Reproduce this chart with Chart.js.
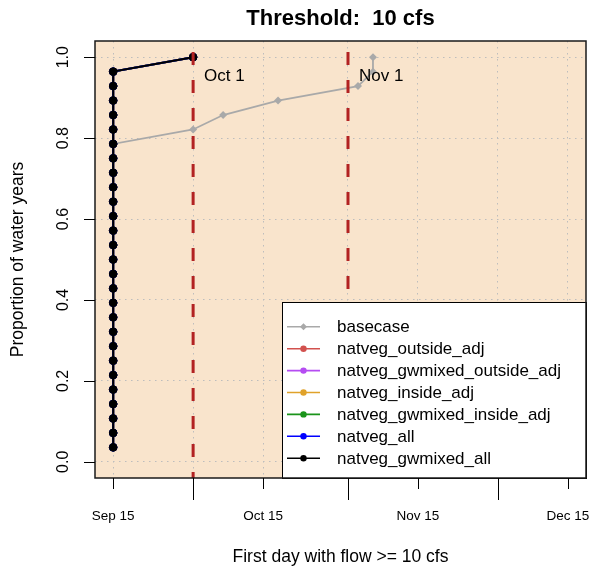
<!DOCTYPE html>
<html>
<head>
<meta charset="utf-8">
<script src="https://cdn.jsdelivr.net/npm/chart.js@4/dist/chart.umd.min.js"></script>
<style>
  body { margin: 0; background: #fff; }
  canvas { display: block; }
</style>
</head>
<body>
<canvas id="chart" width="593" height="569"></canvas>
<script>
// x values are days counted from Sep 1 (Sep 15 = 14, Oct 1 = 30, ...)
var seriesNames = ['basecase', 'natveg_outside_adj', 'natveg_gwmixed_outside_adj', 'natveg_inside_adj',
    'natveg_gwmixed_inside_adj', 'natveg_all', 'natveg_gwmixed_all'];
var seriesColors = ['#A9A9A9', '#D2514E', '#B54CF2', '#E0A22A', '#1A941A', '#0000FF', '#000000'];

// proportion of water years (28 years)
var proportions = [0.0357, 0.0714, 0.1071, 0.1429, 0.1786, 0.2143, 0.25, 0.2857, 0.3214, 0.3571,
    0.3929, 0.4286, 0.4643, 0.5, 0.5357, 0.5714, 0.6071, 0.6429, 0.6786, 0.7143,
    0.75, 0.7857, 0.8214, 0.8571, 0.8929, 0.9286, 0.9643, 1.0];

var basecaseDays = [14, 14, 14, 14, 14, 14, 14, 14, 14, 14, 14, 14, 14, 14, 14, 14, 14, 14, 14, 14,
    14, 14, 30, 36, 47, 63, 66, 66];
var natvegDays = [14, 14, 14, 14, 14, 14, 14, 14, 14, 14, 14, 14, 14, 14, 14, 14, 14, 14, 14, 14,
    14, 14, 14, 14, 14, 14, 14, 30];

var xTickDays = [14, 30, 44, 61, 75, 91, 105];
var xTickLabels = ['Sep 15', '', 'Oct 15', '', 'Nov 15', '', 'Dec 15'];
var yTickValues = [0, 0.2, 0.4, 0.6, 0.8, 1.0];
var markerDays = [30, 61];
var markerLabels = ['Oct 1', 'Nov 1'];

var FONT = "'Liberation Sans', Arial, Helvetica, sans-serif";
Chart.defaults.font.family = FONT;
Chart.defaults.color = '#000';

function toPoints(days) {
    return days.map(function(d, i) { return { x: d, y: proportions[i] }; });
}

var datasets = seriesNames.map(function(name, i) {
    var days = i === 0 ? basecaseDays : natvegDays;
    return {
        label: name,
        data: toPoints(days),
        borderColor: seriesColors[i],
        backgroundColor: seriesColors[i],
        borderWidth: i === 0 ? 1.8 : 2,
        pointStyle: i === 0 ? 'rectRot' : 'circle',
        pointRadius: i === 0 ? 4 : 3.8,
        pointBorderWidth: i === 0 ? 0 : 1,
        tension: 0,
        fill: false,
        order: seriesNames.length - i
    };
});

var extras = {
    id: 'extras',
    beforeDraw: function(chart) {
        var a = chart.chartArea, ctx = chart.ctx;
        ctx.save();
        ctx.fillStyle = '#F9E4CC';
        ctx.fillRect(a.left, a.top, a.right - a.left, a.bottom - a.top);
        ctx.restore();
    },
    afterDatasetsDraw: function(chart) {
        var a = chart.chartArea, ctx = chart.ctx;
        var xs = chart.scales.x, ys = chart.scales.y;
        ctx.save();

        // dashed month markers
        ctx.strokeStyle = '#B22222';
        ctx.lineWidth = 3;
        ctx.setLineDash([13, 15]);
        ctx.lineDashOffset = 17;
        markerDays.forEach(function(d, i) {
            var px = xs.getPixelForValue(d);
            ctx.beginPath();
            ctx.moveTo(px, a.top);
            ctx.lineTo(px, a.bottom);
            ctx.stroke();
        });
        ctx.setLineDash([]);
        ctx.fillStyle = '#000';
        ctx.font = '17px ' + FONT;
        ctx.textBaseline = 'middle';
        ctx.textAlign = 'left';
        markerDays.forEach(function(d, i) {
            ctx.fillText(markerLabels[i], xs.getPixelForValue(d) + 11, a.top + 35);
        });

        // legend
        var lx = 282, ly = 302, lw = a.right + 1 - lx, lh = a.bottom - ly;
        ctx.fillStyle = '#fff';
        ctx.fillRect(lx, ly, lw, lh);
        ctx.strokeStyle = '#000';
        ctx.lineWidth = 1;
        ctx.strokeRect(lx + 0.5, ly + 0.5, lw - 1, lh);
        chart.data.datasets.forEach(function(ds, i) {
            var ry = ly + 24.8 + i * 21.9;
            ctx.strokeStyle = ds.borderColor;
            ctx.lineWidth = 1.6;
            ctx.beginPath();
            ctx.moveTo(lx + 5, ry);
            ctx.lineTo(lx + 38, ry);
            ctx.stroke();
            ctx.fillStyle = ds.borderColor;
            ctx.beginPath();
            if (ds.pointStyle === 'rectRot') {
                ctx.moveTo(lx + 21.5 - 3.5, ry);
                ctx.lineTo(lx + 21.5, ry - 3.5);
                ctx.lineTo(lx + 21.5 + 3.5, ry);
                ctx.lineTo(lx + 21.5, ry + 3.5);
                ctx.closePath();
            } else {
                ctx.arc(lx + 21.5, ry, 3.2, 0, Math.PI * 2);
            }
            ctx.fill();
            ctx.fillStyle = '#000';
            ctx.font = '17px ' + FONT;
            ctx.fillText(ds.label, lx + 55, ry + 1);
        });

        // plot box
        ctx.strokeStyle = '#1a1a1a';
        ctx.lineWidth = 1.5;
        ctx.strokeRect(a.left, a.top, a.right - a.left, a.bottom - a.top);

        // tick marks outside the box
        ctx.lineWidth = 1;
        ctx.strokeStyle = '#000';
        xTickDays.forEach(function(d, i) {
            var px = Math.round(xs.getPixelForValue(d)) + 0.5;
            var len = xTickLabels[i] === '' ? 22 : 11;
            ctx.beginPath();
            ctx.moveTo(px, a.bottom);
            ctx.lineTo(px, a.bottom + len);
            ctx.stroke();
        });
        yTickValues.forEach(function(v) {
            var py = Math.round(ys.getPixelForValue(v)) + 0.5;
            ctx.beginPath();
            ctx.moveTo(a.left, py);
            ctx.lineTo(a.left - 11, py);
            ctx.stroke();
        });
        ctx.restore();
    }
};

var ctx = document.getElementById('chart').getContext('2d');
var chart = new Chart(ctx, {
    type: 'line',
    data: { datasets: datasets },
    options: {
        responsive: false,
        devicePixelRatio: 1,
        animation: false,
        events: [],
        layout: { padding: { left: 0, right: 7, top: 0, bottom: 0 } },
        plugins: {
            legend: { display: false },
            tooltip: { enabled: false },
            title: {
                display: true,
                text: 'Threshold:  10 cfs',
                fullSize: false,
                font: { size: 22, weight: 'bold' },
                padding: { top: 6, bottom: 8.6 }
            }
        },
        scales: {
            x: {
                type: 'linear',
                min: 10.36,
                max: 108.64,
                afterBuildTicks: function(s) {
                    s.ticks = xTickDays.map(function(v) { return { value: v }; });
                },
                afterFit: function(s) {
                    s.height = 91;
                    s.paddingLeft = 0;
                    s.paddingRight = 0;
                },
                ticks: {
                    autoSkip: false,
                    maxRotation: 0,
                    padding: 30,
                    font: { size: 13.5 },
                    callback: function(v, i) { return xTickLabels[i]; }
                },
                grid: { color: '#BDBDBD', lineWidth: 1, drawTicks: false },
                border: { display: false, dash: [1.5, 4.5] },
                title: {
                    display: true,
                    text: 'First day with flow >= 10 cfs',
                    font: { size: 17.5 },
                    padding: { top: 0, bottom: 1 }
                }
            },
            y: {
                min: -0.04,
                max: 1.04,
                afterBuildTicks: function(s) {
                    s.ticks = yTickValues.map(function(v) { return { value: v }; });
                },
                afterFit: function(s) {
                    s.width = 95;
                    s.paddingTop = 0;
                    s.paddingBottom = 0;
                },
                ticks: {
                    autoSkip: false,
                    minRotation: 90,
                    maxRotation: 90,
                    crossAlign: 'center',
                    padding: 20,
                    font: { size: 16 },
                    callback: function(v) { return v.toFixed(1); }
                },
                grid: { color: '#BDBDBD', lineWidth: 1, drawTicks: false },
                border: { display: false, dash: [1.5, 4.5] },
                title: {
                    display: true,
                    text: 'Proportion of water years',
                    font: { size: 17.5 },
                    padding: { top: 8, bottom: 0 }
                }
            }
        }
    },
    plugins: [extras]
});
</script>
</body>
</html>
